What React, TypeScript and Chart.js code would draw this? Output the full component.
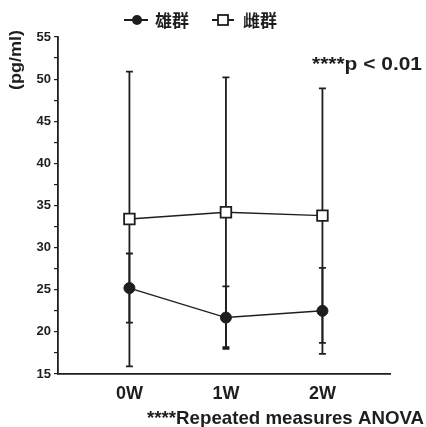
import React, { useEffect, useRef } from "react";
import { Chart, registerables } from "chart.js";

Chart.register(...registerables);

const categories = ["0W", "1W", "2W"];
const maleMean = [25.2, 21.7, 22.5];
const maleSD = [4.1, 3.7, 5.1];
const femaleMean = [33.4, 34.2, 33.8];
const femaleSD = [17.5, 16.0, 15.1];
const yTicks = [15, 20, 25, 30, 35, 40, 45, 50, 55];
const seriesNames = ["雄群", "雌群"];
const pText = "****p < 0.01";
const footText = "****Repeated measures ANOVA";
const yTitle = "(pg/ml)";

const INK = "#1e1e1e";
const FONT = "'Liberation Sans', Arial, sans-serif";
const CJK = "'Noto Sans CJK SC', 'Noto Sans CJK JP', sans-serif";

function fitText(ctx: CanvasRenderingContext2D, text: string, x: number, y: number, w: number, font: string) {
  ctx.save();
  ctx.font = font;
  const m = ctx.measureText(text).width;
  ctx.translate(x, y);
  ctx.scale(w / m, 1);
  ctx.fillText(text, 0, 0);
  ctx.restore();
}

const overlay = {
  id: "overlay",
  beforeDatasetsDraw(chart: any) {
    const ctx = chart.ctx as CanvasRenderingContext2D;
    const xs = chart.scales.x;
    const ys = chart.scales.y;
    ctx.save();
    ctx.strokeStyle = INK;
    ctx.lineWidth = 1.8;
    const groups = [
      { m: femaleMean, s: femaleSD },
      { m: maleMean, s: maleSD },
    ];
    groups.forEach((g) => {
      g.m.forEach((v, i) => {
        const px = xs.getPixelForValue(i);
        const top = ys.getPixelForValue(v + g.s[i]);
        const bot = ys.getPixelForValue(v - g.s[i]);
        ctx.beginPath();
        ctx.moveTo(px, top);
        ctx.lineTo(px, bot);
        ctx.moveTo(px - 3.5, top);
        ctx.lineTo(px + 3.5, top);
        ctx.moveTo(px - 3.5, bot);
        ctx.lineTo(px + 3.5, bot);
        ctx.stroke();
      });
    });
    ctx.restore();
  },
  afterDraw(chart: any) {
    const ctx = chart.ctx as CanvasRenderingContext2D;
    ctx.save();
    ctx.fillStyle = INK;
    ctx.strokeStyle = INK;
    // legend
    ctx.lineWidth = 1.8;
    ctx.beginPath();
    ctx.moveTo(124, 20);
    ctx.lineTo(148, 20);
    ctx.moveTo(212, 20);
    ctx.lineTo(234, 20);
    ctx.stroke();
    ctx.beginPath();
    ctx.arc(137, 20, 5, 0, Math.PI * 2);
    ctx.fill();
    ctx.fillStyle = "#fff";
    ctx.fillRect(218, 15, 10, 10);
    ctx.strokeRect(218, 15, 10, 10);
    ctx.fillStyle = INK;
    ctx.textBaseline = "alphabetic";
    ctx.textAlign = "left";
    fitText(ctx, seriesNames[0], 155, 27, 34, `bold 17px ${CJK}`);
    fitText(ctx, seriesNames[1], 243, 27, 34, `bold 17px ${CJK}`);
    // p text
    fitText(ctx, pText, 312, 70, 110, `bold 19px ${FONT}`);
    // footer
    fitText(ctx, footText, 147, 424, 277, `bold 19px ${FONT}`);
    // y title
    ctx.translate(17, 60);
    ctx.rotate(-Math.PI / 2);
    ctx.textAlign = "left";
    ctx.textBaseline = "middle";
    ctx.font = `bold 16px ${FONT}`;
    const w = ctx.measureText(yTitle).width;
    ctx.scale(60 / w, 1);
    ctx.fillText(yTitle, -w / 2, 0);
    ctx.restore();
  },
};

export default function App() {
  const ref = useRef<HTMLCanvasElement>(null);
  useEffect(() => {
    document.body.style.margin = "0";
    const chart = new Chart(ref.current!, {
      type: "line",
      data: {
        labels: categories,
        datasets: [
          {
            label: seriesNames[0],
            data: maleMean.map((v, i) => ({ x: i, y: v })),
            borderColor: INK,
            borderWidth: 1.4,
            backgroundColor: INK,
            pointBackgroundColor: INK,
            pointBorderColor: INK,
            pointStyle: "circle",
            pointRadius: 5.5,
            pointBorderWidth: 1,
            fill: false,
          },
          {
            label: seriesNames[1],
            data: femaleMean.map((v, i) => ({ x: i, y: v })),
            borderColor: INK,
            borderWidth: 1.4,
            backgroundColor: "#fff",
            pointBackgroundColor: "#fff",
            pointBorderColor: INK,
            pointStyle: "rect",
            pointRadius: 7.5,
            pointBorderWidth: 1.8,
            fill: false,
          },
        ],
      },
      plugins: [overlay],
      options: {
        animation: false,
        responsive: false,
        events: [],
        layout: { padding: { top: 37, right: 36, left: 0, bottom: 0 } },
        plugins: { legend: { display: false }, tooltip: { enabled: false } },
        scales: {
          x: {
            type: "linear",
            min: -0.74,
            max: 2.7,
            afterBuildTicks: (s: any) => {
              s.ticks = categories.map((_, i) => ({ value: i }));
            },
            afterFit: (s: any) => {
              s.height = 53;
            },
            ticks: {
              callback: (v: any) => categories[v as number] ?? "",
              color: INK,
              font: { family: FONT, size: 18, weight: "bold" },
              padding: 1,
              maxRotation: 0,
            },
            grid: { display: false },
            border: { display: true, color: INK, width: 1.8 },
          },
          y: {
            type: "linear",
            min: 15,
            max: 55,
            afterBuildTicks: (s: any) => {
              const t: any[] = [];
              for (let v = 15; v <= 55; v += 2.5) t.push({ value: v });
              s.ticks = t;
            },
            afterFit: (s: any) => {
              s.width = 58;
            },
            ticks: {
              callback: (v: any) => (yTicks.includes(v as number) ? String(v) : ""),
              color: INK,
              font: { family: FONT, size: 13, weight: "bold" },
              padding: 3,
            },
            grid: { drawOnChartArea: false, drawTicks: true, tickLength: 4, color: INK, lineWidth: 1.2 },
            border: { display: true, color: INK, width: 1.8 },
          },
        },
      },
    });
    return () => chart.destroy();
  }, []);
  return (
    <div style={{ position: "absolute", left: 0, top: 0, width: 426, height: 427, background: "#fff" }}>
      <canvas ref={ref} width={426} height={427} style={{ width: 426, height: 427 }} />
    </div>
  );
}
